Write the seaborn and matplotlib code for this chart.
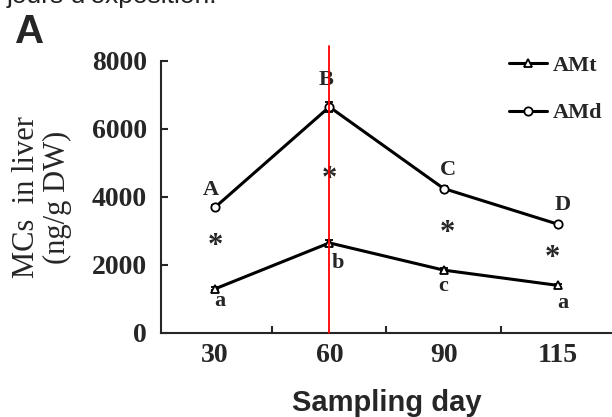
import pandas as pd
import seaborn as sns
import matplotlib.pyplot as plt

days = ['30', '60', '90', '115']
amt = [1300, 2650, 1850, 1400]
amd = [3700, 6650, 4250, 3200]
amt_err = [40, 80, 50, 40]
amd_err = [60, 150, 70, 50]
groups = ['AMt', 'AMd']
upper_letters = ['A', 'B', 'C', 'D']
lower_letters = ['a', 'b', 'c', 'a']
y_ticks = [0, 2000, 4000, 6000, 8000]

# where the letters / stars sit (x in category units, y in data units)
upper_pos = [(-0.04, 4200), (0.97, 7450), (2.04, 4800), (3.04, 3760)]
lower_pos = [(0.04, 930), (1.07, 2050), (2.0, 1370), (3.04, 870)]
star_pos = [(0.0, 2550), (1.0, 4520), (2.03, 2940), (2.95, 2200)]


def main():
    sns.set_style('ticks')
    plt.rcParams['font.family'] = ['Liberation Serif', 'DejaVu Serif']
    plt.rcParams['font.weight'] = 'bold'

    df = pd.DataFrame({
        'day': days * 2,
        'MCs': amt + amd,
        'group': ['AMt'] * len(days) + ['AMd'] * len(days),
    })

    fig = plt.figure(figsize=(6.12, 4.17), dpi=100)
    ax = fig.add_axes([161 / 612, 1 - 333 / 417, 451 / 612, 272 / 417])

    sns.pointplot(data=df, x='day', y='MCs', hue='group', order=days,
                  hue_order=groups, palette=['black', 'black'],
                  markers=['^', 'o'], linestyles=['-', '-'], errorbar=None,
                  legend=False, ax=ax, linewidth=2.2, markersize=6,
                  markeredgewidth=1.3, markerfacecolor='white')
    handles = list(ax.lines[:2])
    for h in handles:
        h.set_zorder(4)

    ax.errorbar(range(len(days)), amd, yerr=amd_err, fmt='none',
                ecolor='black', elinewidth=1.2, capsize=3, capthick=1.3, zorder=1)
    ax.errorbar(range(len(days)), amt, yerr=amt_err, fmt='none',
                ecolor='black', elinewidth=1.2, capsize=3, capthick=1.3, zorder=1)

    ax.axvline(days.index('60'), ymin=0, ymax=1.055, color='red', lw=1.3,
               clip_on=False, zorder=5)

    for (x, y), s in zip(upper_pos, upper_letters):
        ax.text(x, y, s, ha='center', va='center', fontsize=16)
    for (x, y), s in zip(lower_pos, lower_letters):
        ax.text(x, y, s, ha='center', va='center', fontsize=16)
    for x, y in star_pos:
        ax.text(x, y, '*', ha='center', va='center', fontsize=22)

    ax.set_xlim(-0.474, 3.474)
    ax.set_ylim(0, 8000)
    ax.set_xticks(range(len(days)), days)
    ax.set_xticks([0.5, 1.5, 2.5], minor=True)
    ax.set_yticks(y_ticks)
    ax.tick_params(axis='x', which='major', length=0, pad=7, labelsize=20)
    ax.tick_params(axis='x', which='minor', direction='in', length=5, width=1.5)
    ax.tick_params(axis='y', direction='in', length=5, width=1.5, pad=10,
                   labelsize=20)
    sns.despine(ax=ax)
    for sp in ['left', 'bottom']:
        ax.spines[sp].set_linewidth(1.5)

    ax.set_ylabel('MCs  in liver\n(ng/g DW)', fontsize=22, linespacing=1.1)
    ax.yaxis.set_label_coords(-0.197, 0.5)
    ax.set_xlabel('Sampling day', fontsize=21, family='Liberation Sans',
                  weight='bold')
    ax.xaxis.set_label_coords(0.5, -0.205)
    ax.xaxis.label.set_va('top')

    ax.legend(handles=handles, labels=groups, loc='upper left',
              bbox_to_anchor=(0.772, 1.02), frameon=False, borderpad=0,
              borderaxespad=0, handlelength=1.7, handletextpad=0.25,
              labelspacing=1.2,
              prop=dict(family='Liberation Serif', weight='bold', size=16))

    fig.text(15 / 612, 1 - 43 / 417, 'A', fontsize=29, weight='bold',
             family='Liberation Sans', va='baseline')
    fig.text(7 / 612, 1 - 3 / 417, "jours d'exposition.", fontsize=19,
             weight='normal', family='Liberation Sans', color='#222222',
             va='baseline')

    fig.savefig('out.png', dpi=100)
    plt.close(fig)


if __name__ == '__main__':
    main()
